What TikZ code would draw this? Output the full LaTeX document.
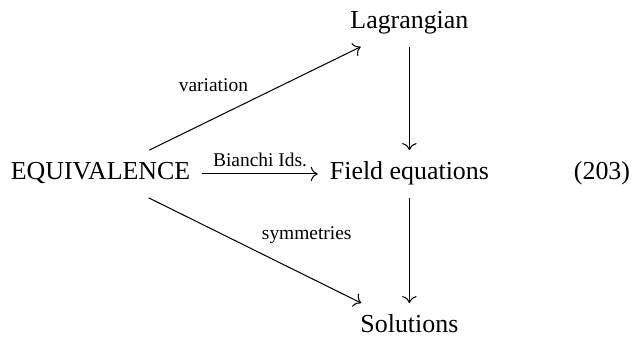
\documentclass[tikz,border=0pt]{standalone}
\usepackage{fontspec}
\setmainfont{Liberation Serif}
\usetikzlibrary{arrows.meta}
\begin{document}
\begin{tikzpicture}[x=0.386pt,y=-0.386pt,
  obj/.style={font=\fontsize{10}{12}\selectfont, inner sep=4.5pt, text height=6.83pt, text depth=2.17pt},
  lab/.style={font=\fontsize{7.5}{9}\selectfont, inner sep=2.5pt},
  arr/.style={-{To[length=2.7pt,width=5.6pt]}, line width=0.4pt}]
\useasboundingbox (0,0) rectangle (632,341);
\node[obj, anchor=base] (L) at (409.4,29) {Lagrangian};
\node[obj, anchor=base] (E) at (100.5,180) {EQUIVALENCE};
\node[obj, anchor=base] (F) at (409.4,180) {Field equations};
\node[obj, anchor=base] (S) at (409.4,333) {Solutions};
\node[font=\fontsize{10}{12}\selectfont, anchor=base] (N) at (602,180) {(203)};
\draw[arr] (E) -- node[lab, above left, pos=0.5] {variation} (L);
\draw[arr] (E) -- node[lab, above] {Bianchi Ids.} (F);
\draw[arr] (E) -- node[lab, above right, pos=0.5] {symmetries} (S);
\draw[arr] (L) -- (F);
\draw[arr] (F) -- (S);
\end{tikzpicture}
\end{document}
